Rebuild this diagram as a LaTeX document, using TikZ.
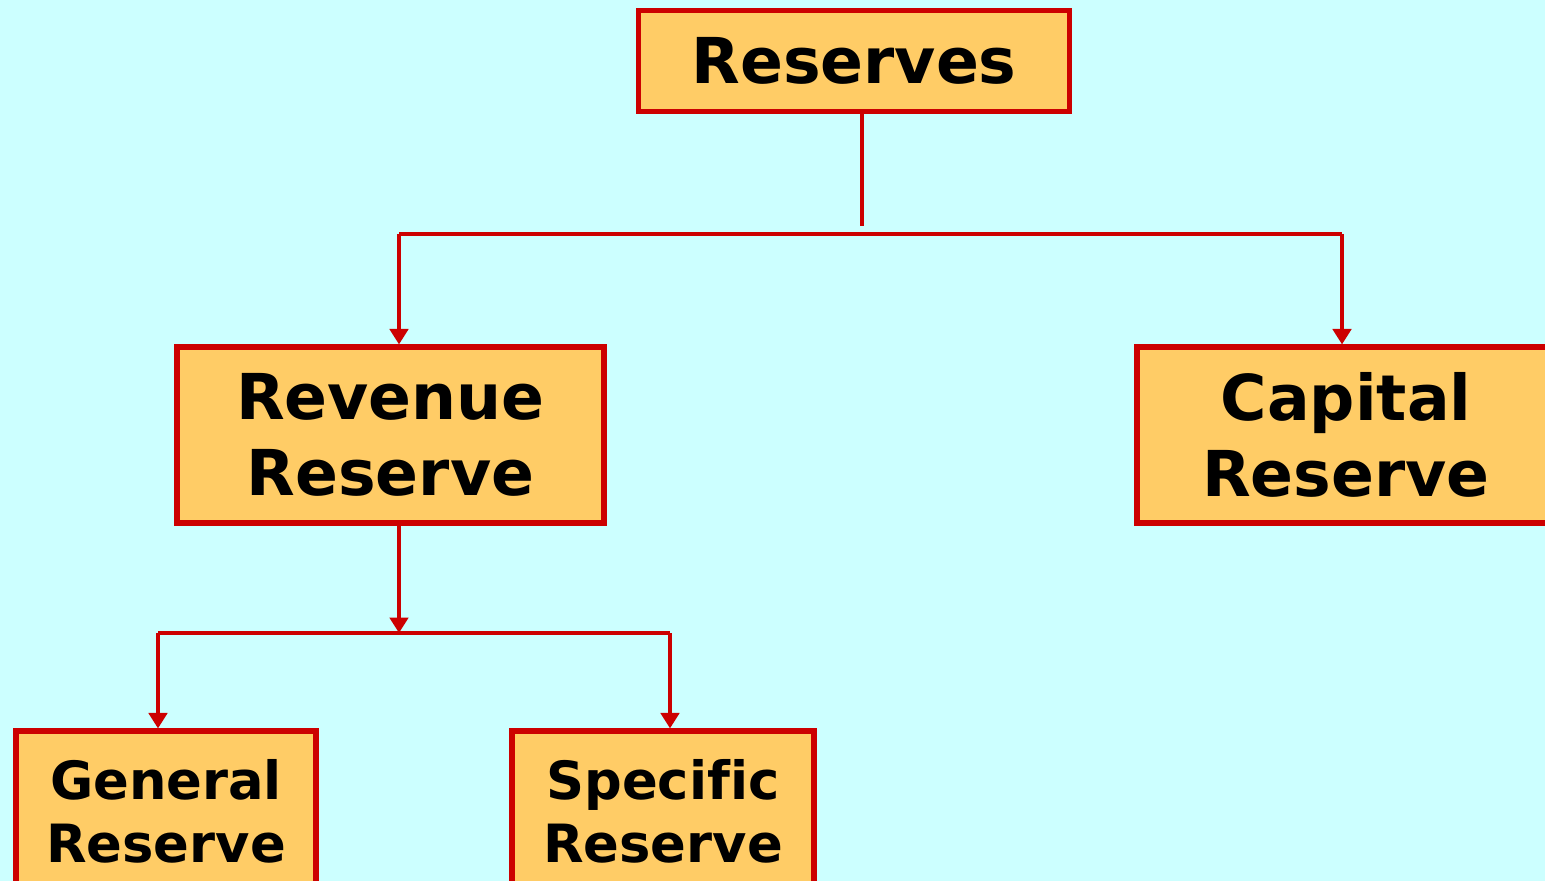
\documentclass[tikz,border=0pt]{standalone}
\usepackage{fontspec}
\setmainfont{DejaVu Sans}[Ligatures=NoCommon]
\usetikzlibrary{arrows.meta}
\definecolor{bgcyan}{HTML}{CCFFFF}
\definecolor{boxfill}{HTML}{FFCC66}
\definecolor{boxred}{HTML}{CC0000}
\begin{document}
\begin{tikzpicture}[
  box/.style={draw=boxred,fill=boxfill,line width=1.45pt,inner sep=0pt,align=center,font=\bfseries},
  big/.style={box,font=\fontsize{18}{21.6}\selectfont\bfseries},
  small/.style={box,font=\fontsize{15}{18}\selectfont\bfseries},
  link/.style={draw=boxred,line width=1.25pt},
  >={Triangle[length=4.4pt,width=5.2pt]}]
\clip (0,0) rectangle (15.45,-8.81);
\fill[bgcyan] (0,0) rectangle (15.45,-8.81);

\node[big,minimum width=4.31cm,minimum height=1.01cm] (res) at (8.54,-0.61) {Reserves};
\node[big,minimum width=4.27cm,minimum height=1.76cm] (rev) at (3.905,-4.35) {Revenue\\Reserve};
\node[big,minimum width=4.18cm,minimum height=1.76cm] (cap) at (13.46,-4.35) {Capital\\Reserve};
\node[small,minimum width=3.00cm,minimum height=1.60cm] (gen) at (1.66,-8.11) {General\\Reserve};
\node[small,minimum width=3.02cm,minimum height=1.60cm] (spe) at (6.63,-8.11) {Specific\\Reserve};

% top level
\coordinate (stem) at (8.62,-2.26);
\coordinate (barL) at (3.99,-2.34);
\coordinate (barR) at (13.42,-2.34);
\draw[link] (res.south -| stem) -- (stem);
\draw[link] (barL) -- (barR);
\draw[link,->] (barL) -- (barL |- rev.north);
\draw[link,->] (barR) -- (barR |- cap.north);

% revenue reserve
\coordinate (sub) at (3.99,-6.33);
\coordinate (subL) at (1.58,-6.33);
\coordinate (subR) at (6.70,-6.33);
\draw[link,->] (rev.south -| sub) -- (sub);
\draw[link] (subL) -- (subR);
\draw[link,->] (subL) -- (subL |- gen.north);
\draw[link,->] (subR) -- (subR |- spe.north);
\end{tikzpicture}
\end{document}
